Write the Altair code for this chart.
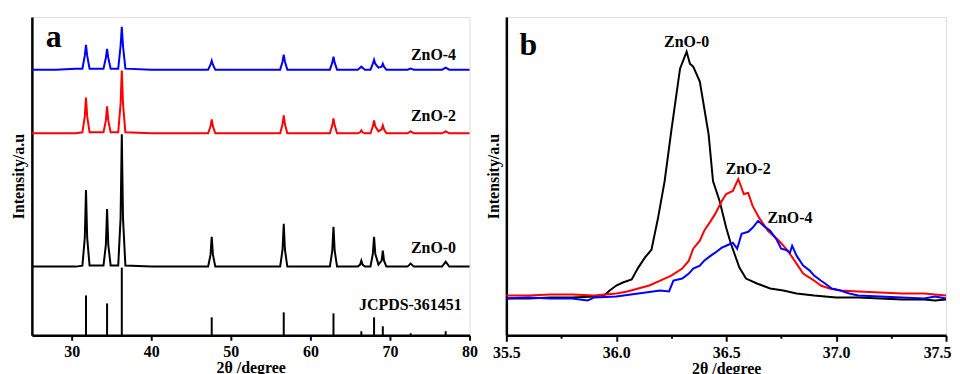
import altair as alt
import pandas as pd

FONT = "Liberation Serif"
series_names = ["ZnO-0", "ZnO-2", "ZnO-4"]
series_colors = ["#000000", "#ff0000", "#0000ff"]

# ---------------- panel a: full XRD patterns (stacked, arbitrary units) ----------------
a_two_theta = [25.0, 28.0, 30.5,
               31.35, 31.65, 31.8, 31.95, 32.25,
               34.0, 34.3, 34.45, 34.6, 34.9,
               35.85, 36.15, 36.3, 36.45, 36.75,
               40.0, 44.0,
               47.15, 47.45, 47.6, 47.75, 48.05,
               52.0,
               56.2, 56.5, 56.65, 56.8, 57.1,
               60.0,
               62.45, 62.75, 62.9, 63.05, 63.35,
               65.95, 66.25, 66.4, 66.55, 66.85,
               67.55, 67.85, 68.0, 68.15, 68.55,
               68.95, 69.1, 69.25, 69.55,
               72.2, 72.6, 73.0,
               76.55, 77.0, 77.45, 80.0]

a_zno0 = [69, 69, 69,
          70, 98, 146, 98, 70,
          70, 91, 127, 91, 70,
          70, 118, 202, 118, 70,
          69, 69,
          69, 81, 99, 81, 69,
          69,
          69, 86, 112, 86, 69,
          69,
          69, 85, 109, 85, 69,
          69, 71, 75, 71, 69,
          69, 82, 99, 82, 71,
          75, 85, 75, 69,
          69, 72, 69,
          69, 74, 69, 69]

a_zno2 = [203, 203, 203,
          204, 220, 239, 220, 204,
          204, 216, 230, 216, 204,
          204, 233, 266, 233, 204,
          203, 203,
          203, 210, 217, 210, 203,
          203,
          203, 212, 221, 212, 203,
          203,
          203, 211, 218, 211, 203,
          203, 204, 206, 204, 203,
          203, 210, 216, 210, 205,
          207, 211, 207, 203,
          203, 205, 203,
          203, 205, 203, 203]

a_zno4 = [267, 267, 268,
          268, 281, 292, 281, 268,
          268, 279, 288, 279, 268,
          268, 291, 310, 291, 268,
          267, 267,
          267, 272, 276, 272, 267,
          267,
          267, 275, 282, 275, 267,
          267,
          267, 274, 280, 274, 267,
          267, 269, 270, 269, 267,
          267, 273, 277, 273, 269,
          270, 273, 270, 267,
          267, 268, 267,
          267, 269, 267, 267]

ref_pos = [31.8, 34.45, 36.3, 47.6, 56.65, 62.9, 66.4, 68.0, 69.1, 72.6, 77.0]
ref_int = [40, 32, 68, 18, 23, 22, 4, 18, 9, 2, 4]

# ---------------- panel b: (101) peak region ----------------
b0_x = [35.50, 35.60, 35.70, 35.80, 35.90, 35.95, 35.97, 36.00, 36.03, 36.07, 36.10, 36.13,
        36.16, 36.19, 36.22, 36.25, 36.29, 36.32, 36.335, 36.35, 36.38, 36.42, 36.44, 36.47,
        36.50, 36.52, 36.56, 36.59, 36.64, 36.70, 36.76, 36.82, 36.90, 37.00, 37.10, 37.20,
        37.30, 37.40, 37.45, 37.50]
b0_y = [37, 37, 38, 38, 39, 41, 45, 50, 53, 56, 68, 78,
        86, 118, 155, 205, 268, 285, 273, 270, 255, 202, 155, 135,
        108, 93, 68, 57, 52, 47, 45, 42, 40, 38, 38, 37,
        36, 36, 35, 36]

b2_x = [35.50, 35.60, 35.70, 35.80, 35.90, 36.00, 36.05, 36.10, 36.15, 36.20, 36.25, 36.30,
        36.33, 36.35, 36.38, 36.40, 36.43, 36.45, 36.48, 36.50, 36.53, 36.555, 36.57, 36.58,
        36.60, 36.62, 36.65, 36.69, 36.74, 36.78, 36.82, 36.85, 36.90, 36.93, 36.97, 37.02,
        37.10, 37.20, 37.30, 37.40, 37.50]
b2_y = [40, 40, 41, 41, 40, 42, 44, 47, 50, 55, 60, 67,
        75, 87, 95, 105, 115, 122, 135, 142, 145, 157, 148, 142,
        143, 130, 118, 105, 95, 85, 72, 62, 55, 50, 47, 45,
        44, 43, 42, 42, 40]

b4_x = [35.50, 35.60, 35.70, 35.80, 35.87, 35.90, 36.00, 36.10, 36.20, 36.24, 36.26, 36.30,
        36.33, 36.35, 36.38, 36.40, 36.43, 36.45, 36.48, 36.50, 36.53, 36.55, 36.57, 36.60,
        36.62, 36.645, 36.67, 36.70, 36.73, 36.75, 36.77, 36.79, 36.80, 36.82, 36.85, 36.88,
        36.90, 36.93, 36.95, 36.98, 37.02, 37.06, 37.10, 37.20, 37.30, 37.40, 37.45, 37.50]
b4_y = [37, 38, 37, 37, 35, 38, 39, 42, 45, 44, 55, 57,
        62, 67, 70, 75, 80, 83, 88, 90, 93, 87, 102, 104,
        108, 115, 110, 105, 96, 87, 86, 83, 90, 80, 70, 65,
        60, 55, 52, 47, 45, 42, 40, 39, 38, 37, 39, 37]

# ---------------- tables ----------------
df_a = pd.concat([
    pd.DataFrame({"x": a_two_theta, "y": a_zno0, "s": "ZnO-0"}),
    pd.DataFrame({"x": a_two_theta, "y": a_zno2, "s": "ZnO-2"}),
    pd.DataFrame({"x": a_two_theta, "y": a_zno4, "s": "ZnO-4"}),
])
df_ref = pd.DataFrame({"x": ref_pos, "y": ref_int})
df_b = pd.concat([
    pd.DataFrame({"x": b0_x, "y": b0_y, "s": "ZnO-0"}),
    pd.DataFrame({"x": b2_x, "y": b2_y, "s": "ZnO-2"}),
    pd.DataFrame({"x": b4_x, "y": b4_y, "s": "ZnO-4"}),
])

color = alt.Color("s:N", scale=alt.Scale(domain=series_names, range=series_colors), legend=None)

ax_common = dict(labelFont=FONT, labelFontWeight="bold", labelFontSize=16, labelColor="black",
                 titleFont=FONT, titleFontWeight="bold", titleFontSize=16, titleColor="black",
                 domainColor="black", domainWidth=2.5, tickColor="black", tickWidth=2,
                 grid=False, labelFlush=False)

def ylab_axis():
    return alt.Axis(labels=False, ticks=False, title="Intensity/a.u", titlePadding=5, **ax_common)

def txt(label, x, y, align="center", size=16):
    return alt.Chart(pd.DataFrame({"t": [label]})).mark_text(
        font=FONT, fontWeight="bold", fontSize=size, align=align, baseline="middle", color="black"
    ).encode(x=alt.X(datum=x, type="quantitative"), y=alt.Y(datum=y, type="quantitative"), text="t:N")

# ---- panel a ----
xa = alt.X("x:Q", scale=alt.Scale(domain=[25, 80], nice=False),
           axis=alt.Axis(values=[30, 40, 50, 60, 70, 80], title="2θ /degree", tickSize=5,
                         labelPadding=3, titlePadding=0, **ax_common))
ya = alt.Y("y:Q", scale=alt.Scale(domain=[0, 320], nice=False), axis=ylab_axis())

lines_a = alt.Chart(df_a).mark_line(strokeWidth=2).encode(x=xa, y=ya, color=color)
sticks = alt.Chart(df_ref).mark_rule(color="black", strokeWidth=2).encode(
    x="x:Q", y="y:Q", y2=alt.Y2(datum=0))

letter_a = alt.Chart(pd.DataFrame({"t": ["a"]})).mark_text(
    font=FONT, fontWeight="bold", fontSize=32, align="center", baseline="alphabetic", color="black"
).encode(x=alt.value(22), y=alt.value(30), text="t:N")

panel_a = alt.layer(
    lines_a, sticks,
    txt("ZnO-4", 78.3, 282, align="right"),
    txt("ZnO-2", 78.3, 220, align="right"),
    txt("ZnO-0", 78.3, 88, align="right"),
    txt("JCPDS-361451", 79.0, 30, align="right"),
    letter_a,
).properties(width=440, height=320)

# ---- panel b ----
b_ticks = [35.5, 35.75, 36.0, 36.25, 36.5, 36.75, 37.0, 37.25, 37.5]
xb = alt.X("x:Q", scale=alt.Scale(domain=[35.5, 37.5], nice=False),
           axis=alt.Axis(values=b_ticks, title="2θ /degree",
                         labelExpr="datum.value % 0.5 === 0 ? format(datum.value, '.1f') : ''",
                         tickSize={"condition": {"test": "datum.value % 0.5 === 0", "value": 6}, "value": 3},
                         labelOffset={"condition": {"test": "datum.value === 37.5", "value": -9}, "value": 0},
                         labelPadding=3, titlePadding=0, **ax_common))
yb = alt.Y("y:Q", scale=alt.Scale(domain=[0, 320], nice=False), axis=ylab_axis())

lines_b = alt.Chart(df_b).mark_line(strokeWidth=2).encode(x=xb, y=yb, color=color)
letter_b = alt.Chart(pd.DataFrame({"t": ["b"]})).mark_text(
    font=FONT, fontWeight="bold", fontSize=32, align="center", baseline="alphabetic", color="black"
).encode(x=alt.value(22), y=alt.value(38), text="t:N")

panel_b = alt.layer(
    lines_b,
    txt("ZnO-0", 36.32, 295),
    txt("ZnO-2", 36.60, 167),
    txt("ZnO-4", 36.79, 118),
    letter_b,
).properties(width=442, height=320)

chart = alt.hconcat(panel_a, panel_b, spacing=6).properties(
    padding={"left": 2, "top": 7, "right": 0, "bottom": 0}
).configure_view(stroke="black", strokeWidth=2).configure(background="white")

chart.save("out.html", embed_options={"renderer": "svg", "actions": False})
